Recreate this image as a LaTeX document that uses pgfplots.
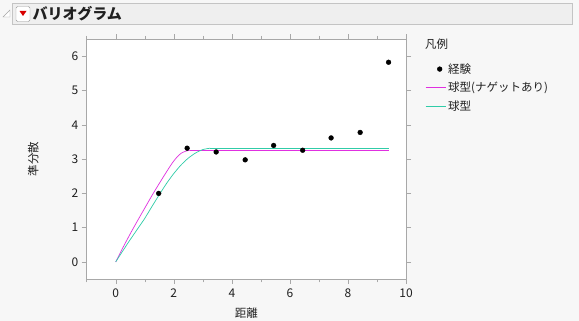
\documentclass[border=0pt]{standalone}
\usepackage{pgfplots}
\pgfplotsset{compat=1.18}
\usepackage{fontspec}
\setmainfont{Noto Sans CJK JP}
\definecolor{bg}{HTML}{F7F7F7}
\definecolor{barbg}{HTML}{EFEFEF}
\definecolor{barline}{HTML}{C4C4C4}
\definecolor{axgray}{HTML}{A8A8A8}
\definecolor{magc}{HTML}{E030E0}
\definecolor{tealc}{HTML}{30CCA8}
\definecolor{txt}{HTML}{202020}
\begin{document}
\begin{tikzpicture}
\path[use as bounding box,fill=bg] (0pt,0pt) rectangle (579pt,321pt);
% title bar
\draw[barline,fill=barbg] (12.5pt,297pt) rectangle (572pt,318pt);
\draw[gray!70,fill=white] (3pt,304pt) -- (10pt,311pt) -- (10pt,304pt) -- cycle;
\draw[gray!80,fill=white,rounded corners=1.5pt] (16pt,299.5pt) rectangle (30pt,314.5pt);
\fill[red!85!black] (19.5pt,310pt) -- (26.5pt,310pt) -- (23pt,305pt) -- cycle;
\node[anchor=west,inner sep=0pt,font=\bfseries\fontsize{15}{16}\selectfont,txt] at (32.5pt,307.5pt) {バリオグラム};
% legend title
\node[anchor=west,inner sep=0pt,font=\fontsize{11.5}{13}\selectfont,txt] at (425pt,277pt) {凡例};
\begin{axis}[
  at={(86.7pt,42pt)}, anchor=south west, scale only axis,
  width=319.3pt, height=239.7pt,
  xmin=-1, xmax=10, ymin=-0.5, ymax=6.5,
  xtick={0,2,...,10}, minor xtick={-1,1,...,9},
  ytick={0,1,...,6},
  tick align=outside, major tick length=5pt, minor tick length=3.5pt,
  axis line style={axgray}, every tick/.style={axgray},
  tick label style={font=\fontsize{12}{13}\selectfont, text=txt},
  xticklabel style={yshift=-1.5pt},
  /pgf/number format/assume math mode=true,
  xlabel={距離}, ylabel={準分散},
  label style={font=\fontsize{11.5}{13}\selectfont, text=txt},
  xlabel style={yshift=-3pt},
  ylabel style={yshift=26pt},
  axis background/.style={fill=white},
  legend style={at={(1,1)}, anchor=north west, xshift=16pt, yshift=-20pt,
    draw=none, fill=none, font=\fontsize{11.5}{13}\selectfont, text=txt,
    row sep=3.5pt},
  legend cell align=left,
  clip=false,
]
\addplot[only marks, mark=*, mark size=2.4pt, black,
  legend image code/.code={\fill[black] (10pt,0pt) circle (2.4pt);}]
  coordinates {(1.48,2.00) (2.46,3.32) (3.46,3.21) (4.46,2.98) (5.44,3.40) (6.44,3.26) (7.42,3.62) (8.42,3.78) (9.40,5.83)};
\addlegendentry{経験}
\addplot[magc, line width=0.7pt, smooth, tension=0.4,
  legend image code/.code={\draw[magc,line width=1pt] (-4pt,0pt) -- (16pt,0pt);}]
  coordinates {(0,0) (0.25,0.42) (0.5,0.82) (0.75,1.20) (1.0,1.57) (1.25,1.94) (1.5,2.29) (1.75,2.63) (1.95,2.89) (2.1,3.05) (2.25,3.17) (2.4,3.23) (2.55,3.26)};
\addplot[magc, line width=0.7pt, forget plot] coordinates {(2.55,3.26) (9.4,3.26)};
\addlegendentry{球型(ナゲットあり)}
\addplot[tealc, line width=0.7pt, smooth, tension=0.4,
  legend image code/.code={\draw[tealc,line width=1pt] (-4pt,0pt) -- (16pt,0pt);}]
  coordinates {(0,0) (0.25,0.33) (0.5,0.65) (0.75,0.96) (1.0,1.27) (1.25,1.62) (1.5,1.96) (1.75,2.29) (2.0,2.58) (2.25,2.83) (2.5,3.03) (2.75,3.18) (3.0,3.28) (3.25,3.32)};
\addplot[tealc, line width=0.7pt, forget plot] coordinates {(3.25,3.32) (9.4,3.32)};
\addlegendentry{球型}
\end{axis}
\end{tikzpicture}
\end{document}
